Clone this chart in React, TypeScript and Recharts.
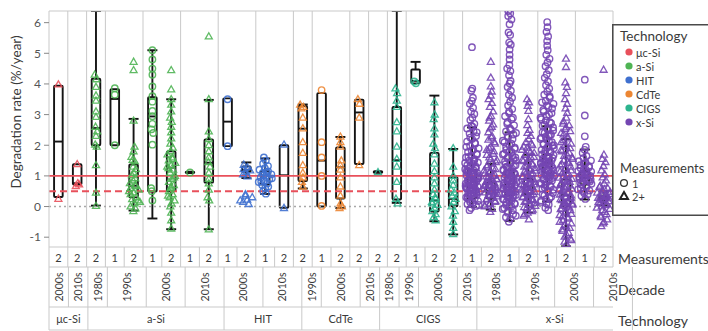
import React from "react";
import { ComposedChart, Bar, Scatter, XAxis, YAxis, ReferenceLine } from "recharts";

// ---- data ----
const technologies = ["μc-Si", "a-Si", "HIT", "CdTe", "CIGS", "x-Si"];
const techColors: Record<string, string> = {
  "μc-Si": "#e8505b",
  "a-Si": "#4fb454",
  HIT: "#3f70cf",
  CdTe: "#ec8633",
  CIGS: "#2db48e",
  "x-Si": "#7446b2",
};

const colTech = [
  "μc-Si", "μc-Si",
  "a-Si", "a-Si", "a-Si", "a-Si", "a-Si", "a-Si", "a-Si",
  "HIT", "HIT", "HIT", "HIT",
  "CdTe", "CdTe", "CdTe", "CdTe",
  "CIGS", "CIGS", "CIGS", "CIGS", "CIGS",
  "x-Si", "x-Si", "x-Si", "x-Si", "x-Si", "x-Si", "x-Si", "x-Si",
];
const colDecade = [
  "2000s", "2010s",
  "1980s", "1990s", "1990s", "2000s", "2000s", "2010s", "2010s",
  "2000s", "2000s", "2010s", "2010s",
  "1990s", "2000s", "2000s", "2010s",
  "1980s", "1990s", "2000s", "2000s", "2010s",
  "1980s", "1980s", "1990s", "1990s", "2000s", "2000s", "2010s", "2010s",
];
const colMeas = [2, 2, 2, 1, 2, 1, 2, 1, 2, 1, 2, 1, 2, 2, 1, 2, 2, 2, 2, 1, 2, 2, 1, 2, 1, 2, 1, 2, 1, 2];

// box statistics per column
const whiskerLow = [0.31, 0.72, 0.03, 2.0, -0.13, -0.39, -0.74, 1.09, -0.74, 1.97, 0.93, 0.41, -0.04, 0.59, 0.0, -0.05, 1.39, 1.1, 0.12, 4.02, -0.48, -0.91, -0.01, -0.1, -0.47, -0.2, 0.16, -1.3, 0.23, 0.04];
const boxLow = [0.31, 0.72, 2.0, 2.0, 0.3, 0.49, 0.5, 1.09, 0.78, 1.97, 1.13, 0.72, -0.04, 0.83, 0.0, 0.26, 1.39, 1.1, 0.23, 4.02, -0.16, 0.01, 0.26, 0.26, 0.36, 0.41, 1.1, 0.01, 0.72, 0.2];
const medians = [2.12, 0.76, 2.56, 3.51, 0.68, 2.94, 1.27, 1.11, 1.43, 2.77, 1.2, 1.01, 1.02, 2.54, 1.5, 1.28, 3.07, 1.12, 1.51, 4.1, 0.2, 0.25, 0.62, 0.5, 0.73, 0.66, 1.43, 0.37, 0.93, 0.27];
const boxHigh = [3.94, 1.38, 4.17, 3.83, 1.37, 3.57, 1.8, 1.14, 2.19, 3.53, 1.31, 1.15, 2.0, 3.28, 3.7, 1.93, 3.49, 1.15, 3.25, 4.47, 1.75, 0.96, 1.2, 0.78, 1.18, 0.91, 1.69, 0.88, 1.15, 0.34];
const whiskerHigh = [3.94, 1.38, 6.38, 3.83, 2.86, 5.1, 3.5, 1.14, 3.48, 3.53, 1.44, 1.57, 2.0, 3.33, 3.7, 2.27, 3.49, 1.15, 6.38, 4.72, 3.62, 1.88, 2.58, 1.4, 2.42, 1.69, 2.62, 2.2, 1.86, 0.5];

// individual measurements per column
const points: number[][] = [
  [3.98, 0.25],
  [1.38, 0.76, 0.66, 0.72],
  [4.3, 4.15, 3.9, 3.62, 3.45, 3.1, 2.92, 2.6, 2.45, 2.3, 2.02, 1.95, 1.35, 0.45, 0.02],
  [3.86, 3.65, 2.0],
  [4.72, 4.45, 2.8, 1.95, 1.8, 1.62, 1.48, 1.3, 1.22, 1.1, 1.02, 0.92, 0.85, 0.76, 0.7, 0.6, 0.55, 0.46, 0.4, 0.3, 0.24, 0.15, 0.1, 0.0, -0.06, -0.15, 0.5, 0.66, 1.52, 0.2],
  [5.1, 4.8, 4.5, 4.3, 3.92, 3.6, 3.42, 3.12, 2.95, 2.7, 2.52, 2.4, 2.02, 0.6, 0.2, 0.5],
  [4.45, 3.82, 3.5, 3.32, 3.1, 2.9, 2.76, 2.6, 2.42, 2.22, 2.05, 1.92, 1.8, 1.7, 1.6, 1.5, 1.42, 1.35, 1.3, 1.2, 1.1, 1.0, 0.9, 0.8, 0.7, 0.6, 0.5, 0.4, 0.3, 0.2, 0.1, 0.0, -0.2, -0.45, -0.72, 1.55, 1.25, 0.95, 0.65, 0.35],
  [1.11],
  [5.55, 3.5, 2.45, 2.2, 2.0, 1.8, 1.6, 1.45, 1.3, 1.1, 0.9, 0.75, 0.55, 0.3, 0.2, -0.75],
  [3.5, 1.97],
  [1.36, 1.28, 1.22, 1.18, 1.12, 1.05, 0.98, 0.4, 0.3, 0.22, 0.15, 0.08, 0.35, 0.2],
  [1.6, 1.5, 1.4, 1.32, 1.25, 1.2, 1.15, 1.1, 1.05, 1.0, 0.95, 0.9, 0.85, 0.8, 0.75, 0.7, 0.65, 0.6, 0.5, 0.42, 1.02, 0.92, 1.12, 0.82],
  [2.02, -0.05],
  [3.32, 3.25, 3.2, 2.9, 2.55, 2.1, 1.75, 1.35, 1.1, 0.95, 0.8, 0.65],
  [3.8, 2.1, 1.6, 1.0, 0.02],
  [2.28, 2.1, 1.95, 1.5, 1.35, 1.2, 0.95, 0.65, 0.35, 0.1, -0.05, 0.0],
  [3.5, 3.35, 2.9, 1.35],
  [1.12],
  [3.85, 3.7, 3.45, 3.25, 2.75, 2.45, 1.95, 1.55, 1.3, 0.8, 0.25, 0.1],
  [4.08, 4.02],
  [3.4, 3.0, 2.85, 2.55, 2.35, 2.05, 1.9, 1.7, 1.4, 1.15, 0.95, 0.75, 0.55, 0.4, 0.25, 0.15, 0.05, -0.05, -0.15, -0.25, -0.35, -0.45, 0.3, 0.1],
  [1.9, 1.3, 1.0, 0.85, 0.7, 0.55, 0.45, 0.35, 0.25, 0.15, 0.0, -0.15, -0.3, -0.5, -0.7, -0.9],
  [5.2, 3.85, 3.78, 3.55, 3.45, 3.35, 3.22, 3.1, 3.02, 2.9, 2.82, 2.7, 2.63, 2.55, 2.45, 2.38, 2.3, 2.2, 2.12, 2.05, 1.98, 1.9, 1.85, 1.78, 1.72, 1.65, 1.6, 1.55, 1.5, 1.44, 1.4, 1.35, 1.3, 1.26, 1.22, 1.18, 1.13, 1.1, 1.05, 1.02, 0.98, 0.95, 0.92, 0.88, 0.85, 0.82, 0.78, 0.75, 0.72, 0.68, 0.65, 0.62, 0.58, 0.55, 0.52, 0.48, 0.45, 0.42, 0.38, 0.35, 0.3, 0.26, 0.22, 0.18, 0.12, 0.08, 0.02, -0.05, -0.12, 1.48, 1.15, 0.9, 0.7, 0.6, 0.5, 0.4, 1.0, 0.8,
    0.33, 0.43, 0.53, 0.63, 0.73, 0.83, 0.93, 1.03, 1.12, 1.24, 1.33, 1.42, 1.52, 1.62, 1.7, 1.82, 1.95, 2.08, 2.25, 2.42, 2.6, 0.28, 0.47, 0.57, 0.67, 0.77, 0.87, 0.97, 1.07, 1.17, 1.27, 0.15, 0.05],
  [4.72, 4.2, 3.92, 3.75, 3.62, 3.5, 3.38, 3.25, 3.1, 2.95, 2.8, 2.68, 2.55, 2.42, 2.3, 2.18, 2.05, 1.95, 1.85, 1.72, 1.6, 1.5, 1.4, 1.3, 1.22, 1.15, 1.08, 1.0, 0.95, 0.9, 0.85, 0.8, 0.75, 0.7, 0.66, 0.62, 0.58, 0.54, 0.5, 0.46, 0.42, 0.38, 0.33, 0.28, 0.22, 0.15, 0.08, 0.0, -0.08, -0.18, 0.6, 0.52, 0.7, 0.45,
    0.35, 0.4, 0.48, 0.56, 0.64, 0.68, 0.72, 0.78, 0.82, 0.88, 0.92, 0.98, 1.04, 1.12, 1.18, 1.26, 1.35, 1.45, 1.55, 1.68, 1.8, 1.9, 2.1, 2.25, 0.25, 0.18, 0.1, 0.03, 2.6, 2.9],
  [6.38, 6.3, 6.22, 6.1, 5.95, 5.68, 5.6, 5.35, 5.28, 5.12, 4.95, 4.8, 4.62, 4.5, 4.42, 4.28, 4.1, 4.02, 3.9, 3.78, 3.65, 3.55, 3.42, 3.3, 3.18, 3.05, 2.95, 2.85, 2.75, 2.65, 2.55, 2.45, 2.35, 2.25, 2.15, 2.05, 1.95, 1.88, 1.8, 1.72, 1.65, 1.58, 1.5, 1.44, 1.38, 1.32, 1.26, 1.2, 1.15, 1.1, 1.05, 1.0, 0.95, 0.9, 0.85, 0.8, 0.76, 0.72, 0.68, 0.64, 0.6, 0.56, 0.52, 0.48, 0.44, 0.4, 0.35, 0.3, 0.25, 0.2, 0.14, 0.08, 0.02, -0.05, -0.12, -0.2, -0.3, -0.4, -0.5, 1.1, 0.9, 0.7, 0.5, 1.3, 1.6, 0.3,
    -0.35, -0.25, -0.15, -0.08, 0.0, 0.05, 0.11, 0.17, 0.23, 0.28, 0.33, 0.38, 0.42, 0.46, 0.5, 0.54, 0.58, 0.62, 0.66, 0.7, 0.74, 0.78, 0.82, 0.88, 0.93, 0.98, 1.03, 1.08, 1.13, 1.18, 1.23, 1.29, 1.35, 1.41, 1.47, 1.55, 1.62, 1.7, 1.78, 1.85, 1.92, 2.0, 2.1, 2.2, 2.3, 2.4, 2.5, 2.7, 2.9, 3.1],
  [3.5, 3.4, 3.28, 3.12, 2.85, 2.65, 2.5, 2.4, 2.3, 2.2, 2.1, 2.0, 1.92, 1.85, 1.78, 1.7, 1.62, 1.55, 1.48, 1.4, 1.33, 1.26, 1.2, 1.14, 1.08, 1.02, 0.96, 0.9, 0.85, 0.8, 0.75, 0.7, 0.65, 0.6, 0.55, 0.5, 0.45, 0.4, 0.35, 0.3, 0.24, 0.18, 0.12, 0.05, -0.02, -0.1, -0.2, -0.3, -0.42, 0.62, 0.72, 0.52,
    -0.25, -0.15, -0.05, 0.02, 0.08, 0.15, 0.21, 0.27, 0.32, 0.38, 0.43, 0.48, 0.53, 0.58, 0.63, 0.68, 0.73, 0.78, 0.83, 0.88, 0.93, 0.99, 1.05, 1.11, 1.17, 1.23, 1.3, 1.37, 1.45, 1.52, 1.6, 1.68, 1.75, 1.82, 1.95, 2.05],
  [6.02, 5.85, 5.7, 5.55, 5.4, 5.25, 5.1, 4.95, 4.82, 4.7, 4.58, 4.45, 4.32, 4.2, 4.08, 3.96, 3.85, 3.75, 3.65, 3.55, 3.45, 3.35, 3.25, 3.15, 3.05, 2.95, 2.85, 2.75, 2.66, 2.58, 2.5, 2.42, 2.35, 2.28, 2.2, 2.12, 2.05, 1.98, 1.92, 1.85, 1.8, 1.74, 1.68, 1.62, 1.56, 1.5, 1.45, 1.4, 1.35, 1.3, 1.25, 1.2, 1.15, 1.1, 1.05, 1.0, 0.95, 0.9, 0.85, 0.8, 0.74, 0.68, 0.62, 0.55, 0.48, 0.4, 0.32, 0.24, 0.15, 0.06, -0.04, -0.12, 1.6, 1.3, 1.0, 0.7, 2.0, 2.3, 1.45, 1.15,
    0.1, 0.2, 0.28, 0.36, 0.44, 0.52, 0.58, 0.65, 0.71, 0.77, 0.83, 0.88, 0.93, 0.98, 1.03, 1.08, 1.12, 1.18, 1.22, 1.28, 1.33, 1.38, 1.43, 1.48, 1.53, 1.58, 1.64, 1.7, 1.77, 1.83, 1.9, 1.96, 2.03, 2.1, 2.18, 2.25, 2.33, 2.4, 2.48, 2.56, 2.64, 2.72, 2.8, 2.9, 3.0, 3.1, 3.2, 3.3, 3.4, 3.6],
  [4.82, 4.55, 4.05, 3.9, 3.7, 3.5, 3.35, 3.2, 3.05, 2.9, 2.78, 2.65, 2.52, 2.4, 2.28, 2.16, 2.05, 1.95, 1.85, 1.75, 1.65, 1.55, 1.46, 1.38, 1.3, 1.22, 1.14, 1.06, 0.98, 0.9, 0.83, 0.76, 0.69, 0.62, 0.55, 0.48, 0.42, 0.36, 0.3, 0.24, 0.18, 0.12, 0.06, 0.0, -0.06, -0.12, -0.2, -0.28, -0.36, -0.45, -0.55, -0.65, -0.75, -0.86, -0.98, -1.1, -1.22, 0.5, 0.3, 0.1, 0.7, 0.9,
    -1.15, -1.05, -0.92, -0.8, -0.7, -0.6, -0.5, -0.4, -0.32, -0.24, -0.16, -0.09, -0.03, 0.03, 0.09, 0.15, 0.21, 0.27, 0.33, 0.39, 0.45, 0.52, 0.58, 0.65, 0.72, 0.8, 0.87, 0.94, 1.02, 1.1, 1.18, 1.26, 1.34, 1.42, 1.5, 1.6, 1.7, 1.8, 1.9, 2.0, 2.1, 2.22, 2.35, 2.46, 2.58, 2.7],
  [4.14, 2.97, 2.29, 1.95, 1.85, 1.75, 1.65, 1.58, 1.5, 1.42, 1.35, 1.28, 1.22, 1.16, 1.1, 1.05, 1.0, 0.95, 0.9, 0.85, 0.8, 0.74, 0.68, 0.6, 0.52, 0.44, 0.35, 0.25, 1.0, 0.88, 1.12, 0.78,
    0.4, 0.5, 0.56, 0.64, 0.72, 0.82, 0.92, 0.97, 1.02, 1.07, 1.14, 1.2, 1.26, 1.32, 1.4, 1.48],
  [4.46, 1.69, 1.55, 1.45, 1.32, 1.18, 1.05, 0.95, 0.85, 0.75, 0.68, 0.6, 0.52, 0.45, 0.38, 0.32, 0.26, 0.2, 0.14, 0.08, 0.0, -0.08, -0.18, -0.3, -0.42, -0.55, -0.64, 0.3, 0.22, 0.4,
    -0.5, -0.35, -0.25, -0.12, -0.04, 0.04, 0.1, 0.17, 0.24, 0.28, 0.34, 0.42, 0.48, 0.56, 0.64],
];

const yTicks = [-1, 0, 1, 2, 3, 4, 5, 6];
const Y_MIN = -1.32;
const Y_MAX = 6.38;
const solidRef = 1;
const dashedRef = 0.5;

const FONT = "Lato, 'Open Sans', sans-serif";
const GRID = "#c9c9c9";
const TEXT = "#3a3a3a";
const NCOL = colTech.length;

// ---- derived tables ----
const boxData = colTech.map((tech, i) => ({
  key: `c${i}`,
  tech,
  lo: whiskerLow[i],
  q1: boxLow[i],
  med: medians[i],
  q3: boxHigh[i],
  hi: whiskerHigh[i],
}));

function makeGroups(keyOf: (i: number) => string, labelOf: (i: number) => string) {
  const groups: { start: number; end: number; label: string }[] = [];
  for (let i = 0; i < NCOL; i++) {
    const last = groups[groups.length - 1];
    if (last && keyOf(last.start) === keyOf(i)) last.end = i + 1;
    else groups.push({ start: i, end: i + 1, label: labelOf(i) });
  }
  return groups;
}

const colGroups = colMeas.map((m, i) => ({ start: i, end: i + 1, label: String(m) }));
const decadeGroups = makeGroups((i) => colTech[i] + colDecade[i], (i) => colDecade[i]);
const techGroups = makeGroups((i) => colTech[i], (i) => colTech[i]);

function tableTicks(groups: { start: number; end: number; label: string }[]) {
  const labels = new Map<string, string>();
  const ticks: number[] = [];
  groups.forEach((g) => {
    ticks.push(g.start);
    const c = (g.start + g.end) / 2;
    ticks.push(c);
    labels.set(c.toFixed(2), g.label);
  });
  ticks.push(NCOL);
  return { ticks, labels };
}

const measRow = tableTicks(colGroups);
const decadeRow = tableTicks(decadeGroups);
const techRow = tableTicks(techGroups);
const decadeBounds = decadeGroups.map((g) => g.start).filter((b) => b > 0);

// deterministic spread inside a column, wider where the values are crowded
function jitter(values: number[]) {
  return values.map((v, j) => {
    const n = values.filter((u) => Math.abs(u - v) <= 0.15).length;
    const spread = Math.min(0.37, 0.07 * (n - 1));
    const t = ((j * 0.6180339887) % 1) * 2 - 1;
    return spread * t;
  });
}

const scatterCols = points.map((vals, i) => {
  const off = jitter(vals);
  return vals.map((y, j) => ({ x: i + 0.5 + off[j], y }));
});

// ---- shapes ----
function BoxShape(props: any) {
  const { x, y, width, height, payload } = props;
  if (!payload || !Number.isFinite(y) || !Number.isFinite(height)) return null;
  const top = Math.min(y, y + height);
  const bottom = Math.max(y, y + height);
  const { lo, q1, med, q3, hi } = payload;
  const py = (v: number) => bottom - ((v - lo) / (hi - lo)) * (bottom - top);
  const cx = x + width / 2;
  const bw = 4.3;
  const cw = 5;
  const s = { stroke: "#141414", strokeWidth: 1.9, fill: "none" };
  return (
    <g>
      {hi > q3 && <line x1={cx} x2={cx} y1={py(hi)} y2={py(q3)} {...s} />}
      {hi > q3 && <line x1={cx - cw} x2={cx + cw} y1={py(hi)} y2={py(hi)} {...s} />}
      {lo < q1 && <line x1={cx} x2={cx} y1={py(q1)} y2={py(lo)} {...s} />}
      {lo < q1 && <line x1={cx - cw} x2={cx + cw} y1={py(lo)} y2={py(lo)} {...s} />}
      <rect x={cx - bw} y={py(q3)} width={bw * 2} height={Math.max(py(q1) - py(q3), 1)} rx={1} {...s} />
      <line x1={cx - bw} x2={cx + bw} y1={py(med)} y2={py(med)} {...s} />
    </g>
  );
}

function markerShape(color: string, meas: number) {
  return (p: any) => {
    if (!Number.isFinite(p.cx) || !Number.isFinite(p.cy)) return <g />;
    if (meas === 1) {
      return <circle cx={p.cx} cy={p.cy} r={3.2} fill="none" stroke={color} strokeWidth={1.4} strokeOpacity={0.9} />;
    }
    const { cx, cy } = p;
    return (
      <path
        d={`M${cx},${cy - 3.7}L${cx + 3.5},${cy + 2.4}L${cx - 3.5},${cy + 2.4}Z`}
        fill="none"
        stroke={color}
        strokeWidth={1.3}
        strokeOpacity={0.9}
      />
    );
  };
}

function TableTick(props: any) {
  const { x, y, payload, rowHeight, labels, rotate, fontSize } = props;
  const label = labels.get(Number(payload.value).toFixed(2));
  if (label === undefined) {
    return <line x1={x} x2={x} y1={y} y2={y + rowHeight} stroke={GRID} strokeWidth={1} />;
  }
  const cy = y + rowHeight / 2;
  return (
    <text
      x={x}
      y={cy}
      textAnchor="middle"
      dominantBaseline="central"
      transform={rotate ? `rotate(-90 ${x} ${cy})` : undefined}
      fontFamily={FONT}
      fontSize={fontSize}
      fill={TEXT}
    >
      {label}
    </text>
  );
}

function RowTitle(props: any) {
  const vb = props.viewBox;
  if (!vb) return null;
  return (
    <text
      x={vb.x + vb.width + 5}
      y={vb.y + vb.height / 2 + (props.shift || 0)}
      dominantBaseline="central"
      fontFamily={FONT}
      fontSize={14}
      fill={TEXT}
    >
      {props.text}
    </text>
  );
}

function YTitle(props: any) {
  const vb = props.viewBox;
  if (!vb) return null;
  const cx = vb.x + 16;
  const cy = vb.y + vb.height / 2 - 17;
  return (
    <text
      x={cx}
      y={cy}
      transform={`rotate(-90 ${cx} ${cy})`}
      textAnchor="middle"
      dominantBaseline="central"
      fontFamily={FONT}
      fontSize={13.5}
      fill={TEXT}
    >
      Degradation rate (%/year)
    </text>
  );
}

function LegendBox() {
  return (
    <svg width={96} height={193} style={{ position: "absolute", left: 612, top: 24 }}>
      <path d="M96,0.75 H0.75 V191.25 H96" fill="none" stroke="#4a4a4a" strokeWidth={1.5} />
      <text x={8} y={12} dominantBaseline="central" fontFamily={FONT} fontSize={13.5} fill={TEXT}>
        Technology
      </text>
      {technologies.map((t, k) => (
        <g key={t}>
          <circle cx={17} cy={28 + k * 14} r={3.6} fill={techColors[t]} />
          <text x={24} y={28 + k * 14} dominantBaseline="central" fontFamily={FONT} fontSize={11} fill={TEXT}>
            {t}
          </text>
        </g>
      ))}
      <text x={8} y={144} dominantBaseline="central" fontFamily={FONT} fontSize={13} fill={TEXT}>
        Measurements
      </text>
      <circle cx={12} cy={159} r={3.4} fill="none" stroke="#333" strokeWidth={1.3} />
      <text x={20} y={159} dominantBaseline="central" fontFamily={FONT} fontSize={11} fill={TEXT}>
        1
      </text>
      <path d="M12,168 L16,175 L8,175 Z" fill="none" stroke="#222" strokeWidth={2} />
      <text x={20} y={172} dominantBaseline="central" fontFamily={FONT} fontSize={11} fill={TEXT}>
        2+
      </text>
    </svg>
  );
}

export default function App() {
  return (
    <div style={{ position: "absolute", left: 0, top: 0, width: 708, height: 331, overflow: "hidden", background: "#fff" }}>
      <ComposedChart width={708} height={331} data={boxData} margin={{ top: 11, right: 95, bottom: 0, left: 0 }}>
        <XAxis xAxisId="a_band" dataKey="key" type="category" hide height={0} />
        <XAxis
          xAxisId="b_meas"
          dataKey="x"
          type="number"
          domain={[0, NCOL]}
          allowDataOverflow
          ticks={measRow.ticks}
          interval={0}
          height={20}
          tickSize={0}
          tickMargin={0}
          tickLine={false}
          axisLine={{ stroke: GRID }}
          tick={(p: any) => <TableTick {...p} rowHeight={20} labels={measRow.labels} fontSize={11} />}
          label={<RowTitle text="Measurements" shift={1} />}
        />
        <XAxis
          xAxisId="c_dec"
          type="number"
          domain={[0, NCOL]}
          allowDataOverflow
          ticks={decadeRow.ticks}
          interval={0}
          height={40}
          tickSize={0}
          tickMargin={0}
          tickLine={false}
          axisLine={{ stroke: GRID }}
          tick={(p: any) => <TableTick {...p} rowHeight={40} labels={decadeRow.labels} fontSize={10.5} rotate />}
          label={<RowTitle text="Decade" shift={2} />}
        />
        <XAxis
          xAxisId="d_tech"
          type="number"
          domain={[0, NCOL]}
          allowDataOverflow
          ticks={techRow.ticks}
          interval={0}
          height={23}
          tickSize={0}
          tickMargin={0}
          tickLine={false}
          axisLine={{ stroke: GRID }}
          tick={(p: any) => <TableTick {...p} rowHeight={23} labels={techRow.labels} fontSize={11} />}
          label={<RowTitle text="Technology" shift={2} />}
        />
        <XAxis
          xAxisId="e_end"
          type="number"
          domain={[0, NCOL]}
          height={1}
          tick={false}
          tickLine={false}
          axisLine={{ stroke: GRID }}
        />
        <YAxis
          type="number"
          domain={[Y_MIN, Y_MAX]}
          allowDataOverflow
          ticks={yTicks}
          width={49}
          tickSize={5}
          tickMargin={3}
          tick={{ fontSize: 12, fill: "#555", fontFamily: FONT }}
          tickLine={{ stroke: "#888" }}
          axisLine={{ stroke: GRID }}
          label={<YTitle />}
        />

        {decadeBounds.map((b) => (
          <ReferenceLine key={`d${b}`} xAxisId="b_meas" x={b} stroke={GRID} strokeWidth={1} />
        ))}
        <ReferenceLine xAxisId="b_meas" x={NCOL} stroke={GRID} strokeWidth={1} />
        <ReferenceLine xAxisId="b_meas" y={Y_MAX} stroke={GRID} strokeWidth={1} />

        {scatterCols.map((data, i) => (
          <Scatter
            key={`s${i}`}
            xAxisId="b_meas"
            dataKey="y"
            data={data}
            shape={markerShape(techColors[colTech[i]], colMeas[i])}
            isAnimationActive={false}
          />
        ))}

        <ReferenceLine xAxisId="b_meas" y={0} stroke="#a8a8a8" strokeWidth={1.5} strokeDasharray="2 3" />
        <ReferenceLine xAxisId="b_meas" y={dashedRef} stroke="#e8505b" strokeWidth={2} strokeDasharray="7 4" />
        <ReferenceLine xAxisId="b_meas" y={solidRef} stroke="#e8505b" strokeWidth={1.6} />

        <Bar
          xAxisId="a_band"
          dataKey={(d: any) => [d.lo, d.hi]}
          shape={BoxShape}
          isAnimationActive={false}
        />
      </ComposedChart>
      <LegendBox />
    </div>
  );
}
